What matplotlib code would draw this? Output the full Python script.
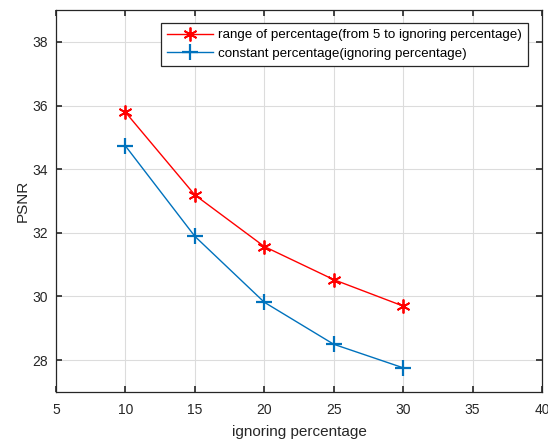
import matplotlib
matplotlib.use("Agg")
import matplotlib.pyplot as plt

ignoring_pct = [10, 15, 20, 25, 30]
psnr_range = [35.79, 33.19, 31.57, 30.53, 29.70]
psnr_constant = [34.73, 31.89, 29.82, 28.50, 27.76]

x_ticks = [5, 10, 15, 20, 25, 30, 35, 40]
y_ticks = [28, 30, 32, 34, 36, 38]

plt.rcParams["font.family"] = ["Liberation Sans", "DejaVu Sans"]

fig = plt.figure(figsize=(5.48, 4.44), dpi=100)
ax = fig.add_axes([56 / 548, 52 / 444, 486 / 548, 382 / 444])

ax.plot(ignoring_pct, psnr_range, color="#ff0000", linewidth=1.0,
        marker=(6, 2, 0), markersize=10, markeredgewidth=1.3,
        label="range of percentage(from 5 to ignoring percentage)")
ax.plot(ignoring_pct, psnr_constant, color="#0072bd", linewidth=1.0,
        marker="+", markersize=11, markeredgewidth=1.6,
        label="constant percentage(ignoring percentage)")

ax.set_xlim(5, 40)
ax.set_ylim(27, 39)
ax.set_xticks(x_ticks)
ax.set_yticks(y_ticks)
ax.grid(True, color="#dcdcdc", linewidth=0.8)
ax.set_axisbelow(True)

for spine in ax.spines.values():
    spine.set_edgecolor("#262626")
    spine.set_linewidth(0.9)
ax.tick_params(direction="in", top=True, right=True, length=4, width=1.2,
               colors="#262626", labelsize=10)
ax.tick_params(axis="x", pad=8)
ax.tick_params(axis="y", pad=6)

ax.set_xlabel("ignoring percentage", fontsize=11, color="#262626", labelpad=6)
ax.set_ylabel("PSNR", fontsize=11, color="#262626", labelpad=2)

leg = ax.legend(loc="upper right", bbox_to_anchor=(528 / 548, 1 - 23 / 444),
                bbox_transform=fig.transFigure, borderaxespad=0,
                fontsize=9.6, fancybox=False, edgecolor="#262626",
                framealpha=1, handlelength=3.4, handletextpad=0.4,
                borderpad=0.45, labelspacing=0.45)
leg.get_frame().set_linewidth(0.9)

fig.savefig("out.png", dpi=100)
